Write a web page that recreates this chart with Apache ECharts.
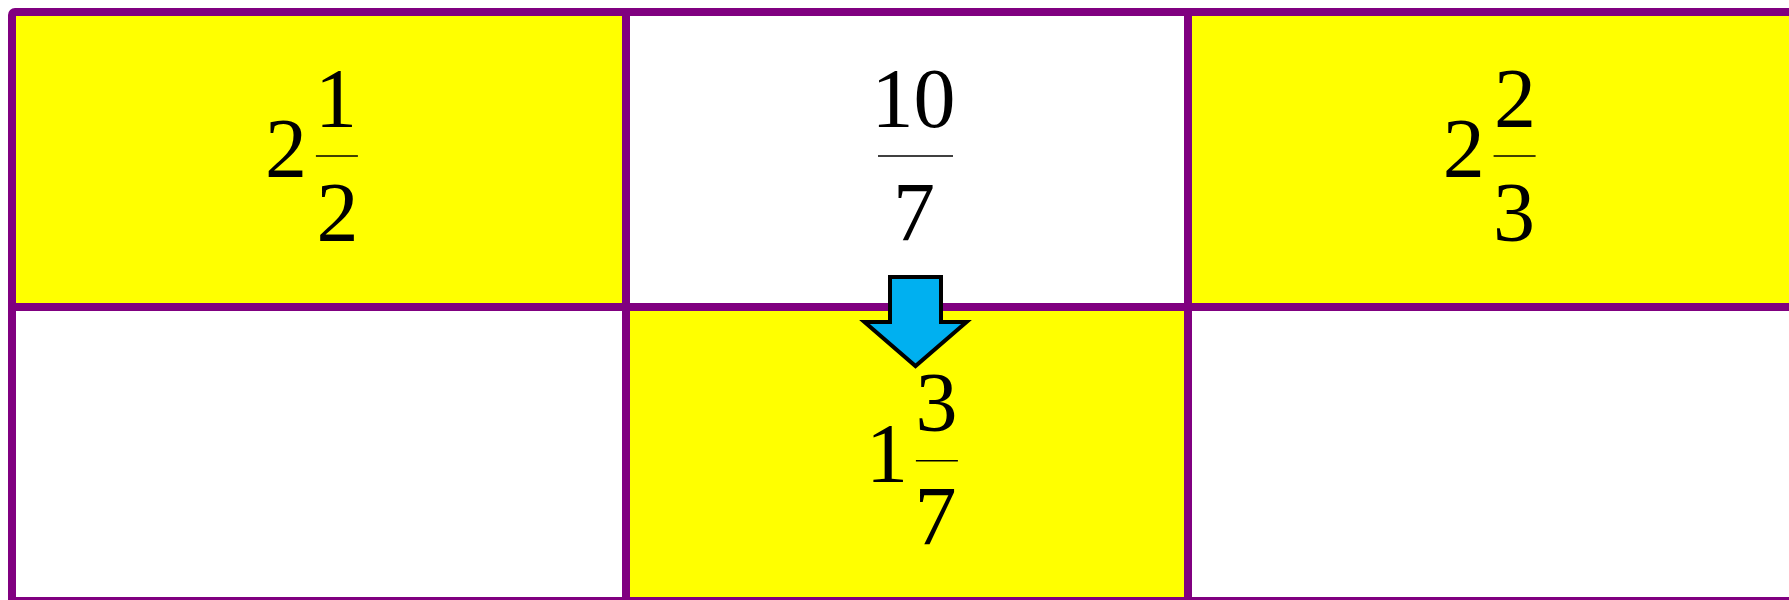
<!DOCTYPE html>
<html>
<head>
<meta charset="utf-8">
<script src="https://cdn.jsdelivr.net/npm/echarts@6/dist/echarts.min.js"></script>
<style>
html,body{margin:0;padding:0;background:#ffffff;}
#c{width:1789px;height:600px;}
</style>
</head>
<body>
<div id="c"></div>
<script>
// ---------- data (cells read left-to-right, top-to-bottom) ----------
const wholeParts   = ['2', '',   '2', '', '1', ''];
const numerators   = ['1', '10', '2', '', '3', ''];
const denominators = ['2', '7',  '3', '', '7', ''];
const highlighted  = [true, false, true, false, true, false];
const arrowFromCell = 1;
const arrowToCell   = 4;

// ---------- layout / style ----------
const NCOLS = 3;
const COL_EDGES = [12, 626, 1188, 1800];
const ROW_EDGES = [12, 307, 601];
const COL_SHIFT = [-6, 8.5, -3.3];
const ROW_SHIFT = [-3.5, 6.7];
const FONT_SIZE = 84;
const FONT_FAMILY = 'Liberation Serif';
const FONT = FONT_SIZE + 'px ' + FONT_FAMILY;
const YELLOW = '#FFFF00', PURPLE = '#800080', BLUE = '#00B0F0';
const NUM_BASE = -29.3, DEN_BASE = 84.7, WHOLE_BASE = 21.3, GAP = 12.8;

const mctx = document.createElement('canvas').getContext('2d');
mctx.font = FONT;
mctx.textBaseline = 'middle';
mctx.textAlign = 'left';
function meas(s) {
  const t = mctx.measureText(s);
  return { adv: t.width, l: t.actualBoundingBoxLeft, r: t.actualBoundingBoxRight,
           asc: t.actualBoundingBoxAscent, desc: t.actualBoundingBoxDescent };
}
const BASE_OFF = meas('1').desc; // middle -> alphabetic baseline
function inkW(s) { const t = meas(s); return t.r + t.l; }
function barWidth(s) { return s.length > 1 ? inkW(s) + 1 : meas(s).adv; }

function textEl(s, inkLeft, baseline) {
  const t = meas(s);
  return { type: 'text', style: { text: s, x: inkLeft + t.l, y: baseline - BASE_OFF,
    fontSize: FONT_SIZE, fontFamily: FONT_FAMILY, fill: '#000000',
    align: 'left', verticalAlign: 'middle' } };
}

const cellData = wholeParts.map((_, i) => [i % NCOLS, Math.floor(i / NCOLS)]);

function cellRect(api, col, row) {
  const p0 = api.coord([COL_EDGES[col], ROW_EDGES[row]]);
  const p1 = api.coord([COL_EDGES[col + 1], ROW_EDGES[row + 1]]);
  return { x: p0[0], y: p0[1], width: p1[0] - p0[0], height: p1[1] - p0[1] };
}
function contentCenter(api, col, row) {
  return api.coord([
    (COL_EDGES[col] + COL_EDGES[col + 1]) / 2 + COL_SHIFT[col],
    (ROW_EDGES[row] + ROW_EDGES[row + 1]) / 2 + ROW_SHIFT[row]
  ]);
}

const chart = echarts.init(document.getElementById('c'), null, { renderer: 'canvas' });
chart.setOption({
  animation: false,
  backgroundColor: '#ffffff',
  grid: { left: 0, right: 0, top: 0, bottom: 0 },
  xAxis: { type: 'value', min: 0, max: 1789, show: false },
  yAxis: { type: 'value', min: 0, max: 600, inverse: true, show: false },
  series: [
    { // fills
      type: 'custom', coordinateSystem: 'cartesian2d', silent: true, z: 1, clip: false,
      data: cellData,
      renderItem: function (params, api) {
        const i = params.dataIndex;
        const r = cellRect(api, api.value(0), api.value(1));
        return { type: 'rect', shape: r, style: { fill: highlighted[i] ? YELLOW : '#ffffff' } };
      }
    },
    { // borders
      type: 'custom', coordinateSystem: 'cartesian2d', silent: true, z: 2, clip: false,
      data: cellData,
      renderItem: function (params, api) {
        const i = params.dataIndex;
        const r = cellRect(api, api.value(0), api.value(1));
        return { type: 'rect', shape: Object.assign({ r: i === 0 ? [3, 0, 0, 0] : 0 }, r),
          style: { fill: null, stroke: PURPLE, lineWidth: 8, lineJoin: 'miter' } };
      }
    },
    { // mixed numbers / fractions
      type: 'custom', coordinateSystem: 'cartesian2d', silent: true, z: 3, clip: false,
      data: cellData,
      renderItem: function (params, api) {
        const i = params.dataIndex;
        const n = numerators[i], d = denominators[i], w = wholeParts[i];
        if (!n && !w) return { type: 'group', children: [] };
        const c = contentCenter(api, api.value(0), api.value(1));
        const B = c[1];
        const bw = Math.max(barWidth(n), barWidth(d));
        const wW = w ? inkW(w) : 0;
        const total = w ? wW + GAP + bw : bw;
        const start = c[0] - total / 2;
        const barL = w ? start + wW + GAP : start;
        const barC = barL + bw / 2;
        const children = [];
        if (w) children.push(textEl(w, start, B + WHOLE_BASE));
        children.push(textEl(n, barC - inkW(n) / 2, B + NUM_BASE));
        children.push(textEl(d, barC - inkW(d) / 2, B + DEN_BASE));
        children.push({ type: 'rect', shape: { x: barL, y: B - 0.8, width: bw, height: 1.6 },
          style: { fill: '#000000' } });
        return { type: 'group', children: children };
      }
    },
    { // arrow between cells
      type: 'custom', coordinateSystem: 'cartesian2d', silent: true, z: 4, clip: false,
      data: [[arrowFromCell % NCOLS, Math.floor(arrowFromCell / NCOLS),
              arrowToCell % NCOLS, Math.floor(arrowToCell / NCOLS)]],
      renderItem: function (params, api) {
        const col = api.value(0), row = api.value(1), row2 = api.value(3);
        const cx = (COL_EDGES[col] + COL_EDGES[col + 1]) / 2 + COL_SHIFT[col];
        const yb = ROW_EDGES[Math.max(row, row2)];
        const pts = [[cx - 25.5, yb - 30], [cx + 25.5, yb - 30], [cx + 25.5, yb + 15],
                     [cx + 51, yb + 15], [cx, yb + 59], [cx - 51, yb + 15], [cx - 25.5, yb + 15]]
                     .map(p => api.coord(p));
        return { type: 'polygon', shape: { points: pts },
          style: { fill: BLUE, stroke: '#000000', lineWidth: 4, lineJoin: 'miter', miterLimit: 10 } };
      }
    }
  ]
});
</script>
</body>
</html>
